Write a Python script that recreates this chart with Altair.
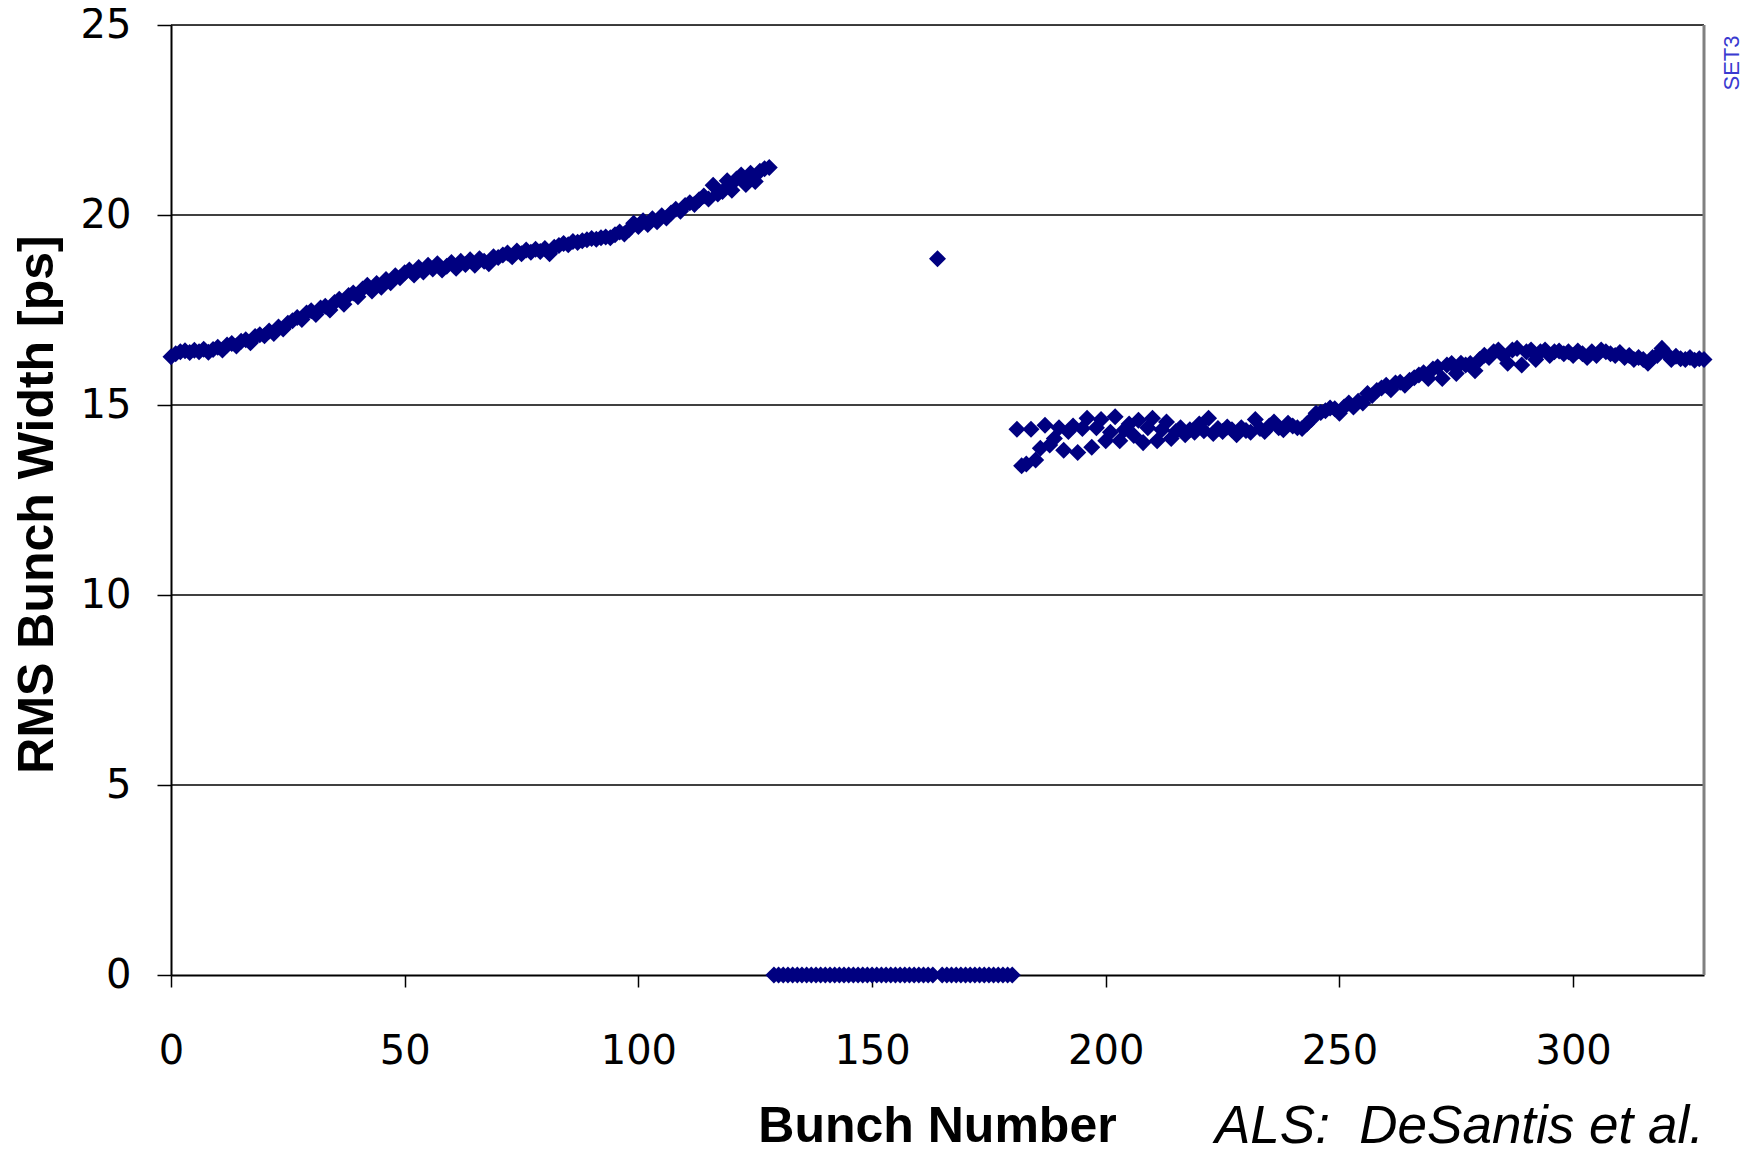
import altair as alt
import pandas as pd

# ---- data ----
branch1_start = 0
branch1 = [
    16.27, 16.35, 16.40, 16.43, 16.38, 16.44, 16.40, 16.47, 16.39, 16.46,
    16.52, 16.45, 16.58, 16.62, 16.55, 16.68, 16.72, 16.64, 16.80, 16.85,
    16.82, 16.95, 16.88, 17.05, 17.00, 17.15, 17.22, 17.30, 17.25, 17.42,
    17.48, 17.38, 17.55, 17.60, 17.50, 17.70, 17.78, 17.65, 17.88, 17.95,
    17.85, 18.05, 18.15, 18.00, 18.20, 18.10, 18.30, 18.22, 18.40, 18.35,
    18.48, 18.55, 18.42, 18.62, 18.50, 18.68, 18.58, 18.72, 18.55, 18.65,
    18.75, 18.60, 18.78, 18.70, 18.82, 18.68, 18.85, 18.78, 18.72, 18.90,
    18.88, 18.95, 19.00, 18.90, 19.05, 18.98, 19.08, 19.02, 19.10, 19.04,
    19.12, 18.98, 19.15, 19.20, 19.25, 19.22, 19.30, 19.28, 19.32, 19.35,
    19.38, 19.36, 19.40, 19.42, 19.40, 19.48, 19.55, 19.50, 19.62, 19.78,
    19.70, 19.85, 19.75, 19.90, 19.82, 19.98, 19.92, 20.05, 20.15, 20.10,
    20.25, 20.32, 20.28, 20.40, 20.50, 20.42, 20.78, 20.55, 20.62, 20.90,
    20.65, 20.95, 21.05, 20.80, 21.10, 20.88, 21.15, 21.22, 21.25,
]

gap_start = 129
gap = [
    0, 0, 0, 0, 0, 0, 0, 0, 0, 0,
    0, 0, 0, 0, 0, 0, 0, 0, 0, 0,
    0, 0, 0, 0, 0, 0, 0, 0, 0, 0,
    0, 0, 0, 0, 0, 18.85, 0, 0, 0, 0,
    0, 0, 0, 0, 0, 0, 0, 0, 0, 0,
    0, 0,
]

branch2_start = 181
branch2 = [
    14.36, 13.40, 13.45, 14.36, 13.55, 13.86, 14.47, 13.95, 14.12, 14.40,
    13.81, 14.30, 14.45, 13.75, 14.38, 14.65, 13.89, 14.40, 14.62, 14.06,
    14.28, 14.69, 14.06, 14.35, 14.50, 14.20, 14.60, 14.01, 14.40, 14.65,
    14.06, 14.35, 14.55, 14.12,
    14.30, 14.40, 14.22, 14.35, 14.28, 14.50, 14.32, 14.65, 14.25, 14.38,
    14.30, 14.42, 14.35, 14.22, 14.40, 14.33, 14.28, 14.62, 14.38, 14.30,
    14.45, 14.55, 14.40, 14.35, 14.52, 14.45, 14.40, 14.38,
    14.50, 14.62, 14.78, 14.80, 14.85, 14.92, 14.90, 14.78, 14.95, 15.05,
    14.95, 15.10, 15.05, 15.30, 15.25, 15.38, 15.45, 15.52, 15.40, 15.58,
    15.60, 15.52, 15.65, 15.72, 15.79, 15.85, 15.70, 15.95, 16.00, 15.70,
    16.05, 16.09, 15.83, 16.10, 16.05, 16.09, 15.90, 16.20, 16.31, 16.25,
    16.40, 16.45, 16.30, 16.10, 16.45, 16.49, 16.05, 16.40, 16.45, 16.20,
    16.40, 16.45, 16.30, 16.40, 16.42, 16.35, 16.40, 16.30, 16.42, 16.35,
    16.25, 16.40, 16.30, 16.45, 16.40, 16.35, 16.30, 16.38, 16.25, 16.30,
    16.20, 16.25, 16.20, 16.10, 16.25, 16.30, 16.49, 16.35, 16.20, 16.28,
    16.22, 16.20, 16.25, 16.18, 16.22, 16.20,
]

x_ticks = [0, 50, 100, 150, 200, 250, 300]
y_ticks = [0, 5, 10, 15, 20, 25]
grid_values = [5, 10, 15, 20, 25]
x_title = "Bunch Number"
y_title = "RMS Bunch Width [ps]"
credit = "ALS:\u00a0 DeSantis et al."
set_label = "SET3"

# ---- build table ----
bunch, width = [], []
for start, vals in ((branch1_start, branch1), (gap_start, gap), (branch2_start, branch2)):
    for i, v in enumerate(vals):
        bunch.append(start + i)
        width.append(v)
df = pd.DataFrame({"bunch": bunch, "width": width})

W, H = 1533, 950
xscale = alt.Scale(domain=[0, 328], nice=False, zero=False)
yscale = alt.Scale(domain=[0, 25], nice=False)

x_axis = alt.Axis(
    values=x_ticks, title=x_title, grid=False,
    labelFont="DejaVu Sans", labelFontSize=40, labelColor="black",
    labelPadding=44, tickSize=12, tickColor="black", tickWidth=1.5,
    labelFlush=False, labelOverlap=False,
    domainColor="black", domainWidth=2,
    titleFont="Liberation Sans", titleFontWeight="bold", titleFontSize=50,
    titleColor="black", titleX=766, titleY=166, titleBaseline="alphabetic",
    titleAlign="center",
)
y_axis = alt.Axis(
    values=y_ticks, title=y_title, grid=False,
    labelFont="DejaVu Sans", labelFontSize=40, labelColor="black",
    labelPadding=26, tickSize=14, tickColor="black", tickWidth=1.5,
    labelFlush=False, labelOverlap=False,
    domainColor="black", domainWidth=2,
    titleFont="Liberation Sans", titleFontWeight="bold", titleFontSize=50,
    titleColor="black", titleX=-119, titleY=479, titleAngle=270,
    titleBaseline="alphabetic", titleAlign="center",
)

grid = alt.Chart(pd.DataFrame({"g": grid_values})).mark_rule(
    color="black", strokeWidth=1.3
).encode(y=alt.Y("g:Q", scale=yscale, axis=y_axis))

right_border = alt.Chart(pd.DataFrame({"g": [0]})).mark_rule(
    color="#808080", strokeWidth=3
).encode(x=alt.value(W), y=alt.value(0), y2=alt.value(H))

points = alt.Chart(df).mark_point(
    shape="diamond", filled=True, size=290, color="#000080", opacity=1,
    strokeWidth=0,
).encode(
    x=alt.X("bunch:Q", scale=xscale, axis=x_axis),
    y=alt.Y("width:Q", scale=yscale, axis=y_axis),
)

credit_text = alt.Chart(pd.DataFrame({"t": [credit]})).mark_text(
    font="Liberation Sans", fontStyle="italic", fontSize=53, color="black",
    align="right", baseline="alphabetic",
).encode(text="t:N", x=alt.value(W), y=alt.value(1118))

set_text = alt.Chart(pd.DataFrame({"t": [set_label]})).mark_text(
    font="Liberation Sans", fontSize=22, color="#3a3ad0",
    align="center", baseline="middle", angle=270,
).encode(text="t:N", x=alt.value(1561), y=alt.value(38))

chart = alt.layer(grid, right_border, points, credit_text, set_text).properties(
    width=W, height=H,
    autosize=alt.AutoSizeParams(type="none"),
    padding={"left": 163, "top": 17, "right": 48, "bottom": 170},
).configure_view(
    stroke="#808080", strokeWidth=2
).configure(background="white")

chart.save("out.html", embed_options={"renderer": "svg", "actions": False})
